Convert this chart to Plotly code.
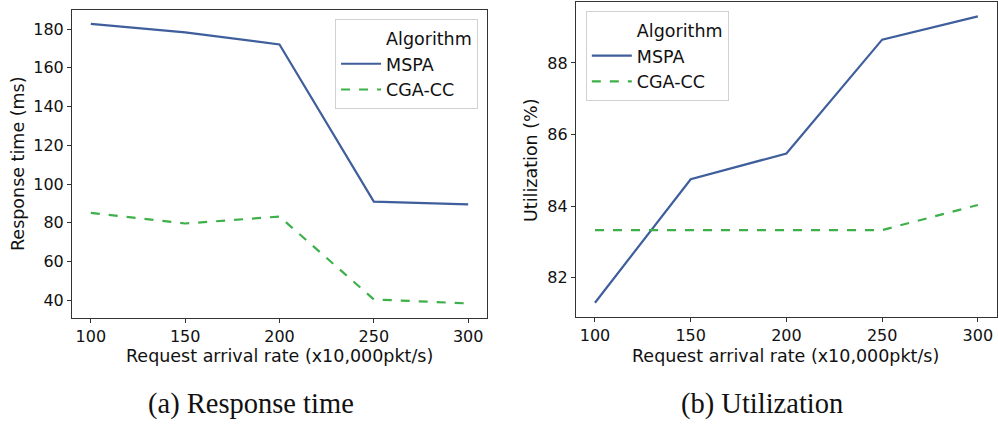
import plotly.graph_objects as go

rates = [100, 150, 200, 250, 300]
resp_mspa = [182.7, 178.3, 172.1, 90.9, 89.5]
resp_cga = [85.1, 79.6, 83.2, 40.4, 38.3]
util_mspa = [81.3, 84.75, 85.47, 88.65, 89.3]
util_cga = [83.33, 83.33, 83.33, 83.33, 84.03]

BLUE = "#3f5e9c"
GREEN = "#3db049"
FS = 17.5
TICKFONT = dict(family="DejaVu Sans", size=16, color="#111111")

fig = go.Figure()

def add_series(xa, ya, leg, mspa, cga):
    fig.add_trace(go.Scatter(x=[None], y=[None], mode="lines", name="Algorithm",
                             line=dict(color="rgba(0,0,0,0)", width=2),
                             xaxis=xa, yaxis=ya, legend=leg, showlegend=True,
                             hoverinfo="skip"))
    fig.add_trace(go.Scatter(x=rates, y=mspa, mode="lines", name="MSPA",
                             line=dict(color=BLUE, width=2.2),
                             xaxis=xa, yaxis=ya, legend=leg))
    fig.add_trace(go.Scatter(x=rates, y=cga, mode="lines", name="CGA-CC",
                             line=dict(color=GREEN, width=2.2, dash="dash"),
                             xaxis=xa, yaxis=ya, legend=leg))

add_series("x", "y", "legend", resp_mspa, resp_cga)
add_series("x2", "y2", "legend2", util_mspa, util_cga)

axis_common = dict(showgrid=False, zeroline=False, showline=True, linecolor="#333333",
                   linewidth=1, mirror=True, ticks="outside", ticklen=4, tickwidth=1,
                   tickcolor="#333333", tickfont=TICKFONT)

legend_common = dict(bgcolor="rgba(255,255,255,0.9)", bordercolor="#d0d0d0", borderwidth=1,
                     font=dict(family="DejaVu Sans", size=FS, color="#111111"),
                     tracegroupgap=0, itemwidth=40)

fig.update_layout(
    width=998, height=425,
    margin=dict(l=0, r=0, t=0, b=0),
    paper_bgcolor="white", plot_bgcolor="white",
    xaxis=dict(domain=[0.0721, 0.488], range=[90, 310], tickvals=rates, anchor="y", **axis_common),
    yaxis=dict(domain=[0.2518, 0.9765], range=[30.8, 189.9], tickvals=[40, 60, 80, 100, 120, 140, 160, 180],
               anchor="x", **axis_common),
    xaxis2=dict(domain=[0.577, 0.999], range=[90, 310], tickvals=rates, anchor="y2", **axis_common),
    yaxis2=dict(domain=[0.254, 0.996], range=[80.9, 89.71], tickvals=[82, 84, 86, 88],
                anchor="x2", **axis_common),
    legend=dict(x=0.479, y=0.955, xanchor="right", yanchor="top", **legend_common),
    legend2=dict(x=0.587, y=0.974, xanchor="left", yanchor="top", **legend_common),
    showlegend=True,
)

annots = [
    dict(text="Request arrival rate (x10,000pkt/s)", x=0.28, y=1 - 356 / 425, size=FS, angle=0, family="DejaVu Sans"),
    dict(text="Request arrival rate (x10,000pkt/s)", x=0.787, y=1 - 356 / 425, size=FS, angle=0, family="DejaVu Sans"),
    dict(text="Response time (ms)", x=18 / 998, y=1 - 164 / 425, size=FS, angle=-90, family="DejaVu Sans"),
    dict(text="Utilization (%)", x=531 / 998, y=1 - 160 / 425, size=FS, angle=-90, family="DejaVu Sans"),
    dict(text="(a) Response time", x=251 / 998, y=1 - 404 / 425, size=28.5, angle=0, family="Liberation Serif"),
    dict(text="(b) Utilization", x=762 / 998, y=1 - 404 / 425, size=28.5, angle=0, family="Liberation Serif"),
]
for a in annots:
    fig.add_annotation(text=a["text"], x=a["x"], y=a["y"], xref="paper", yref="paper",
                       showarrow=False, textangle=a["angle"], xanchor="center", yanchor="middle",
                       font=dict(family=a["family"], size=a["size"], color="#111111"))

fig.write_html("out.html")
